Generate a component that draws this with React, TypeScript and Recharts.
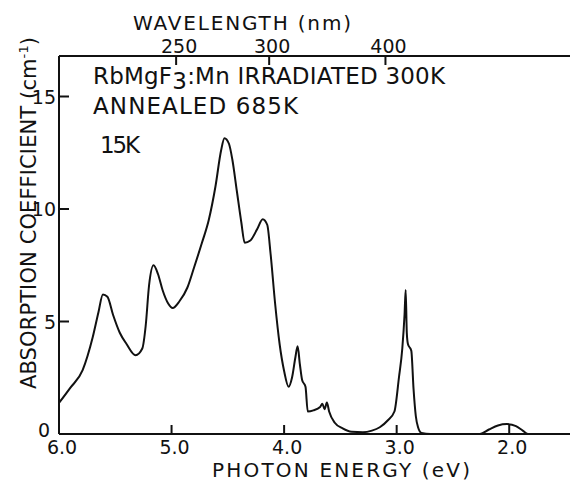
import React from "react";
import { LineChart, Line, XAxis, YAxis } from "recharts";

// photon energy (eV) and absorption coefficient (cm^-1)
const energy = [
  6.0, 5.9, 5.79, 5.7, 5.65, 5.61, 5.57, 5.52, 5.46, 5.4, 5.32, 5.26, 5.23, 5.2, 5.16,
  5.12, 5.08, 5.03, 4.99, 4.93, 4.86, 4.8, 4.73, 4.67, 4.61, 4.56, 4.53, 4.49, 4.46,
  4.42, 4.38, 4.35, 4.3, 4.24, 4.19, 4.15, 4.12, 4.08, 4.04, 4.0, 3.96, 3.93, 3.9, 3.88,
  3.86, 3.84, 3.81, 3.79, 3.74, 3.68, 3.66, 3.64, 3.62, 3.6, 3.55, 3.48, 3.4, 3.3, 3.22,
  3.15, 3.08, 3.02, 2.98, 2.95, 2.93, 2.92, 2.91, 2.9, 2.87, 2.85, 2.83, 2.81, 2.78,
  2.7, 2.3, 2.26, 2.18, 2.1, 2.02, 1.94, 1.88, 1.83, 1.46,
];
const absorption = [
  1.38, 2.05, 2.84, 4.31, 5.4, 6.2, 6.1, 5.3, 4.5, 4.0, 3.5, 3.8, 4.8, 6.6, 7.5,
  7.1, 6.4, 5.8, 5.6, 5.9, 6.5, 7.4, 8.5, 9.5, 11.0, 12.6, 13.15, 12.9, 12.2,
  10.8, 9.4, 8.5, 8.6, 9.1, 9.55, 9.3, 8.0, 5.8, 4.0, 2.8, 2.1, 2.5, 3.4, 3.9,
  3.1, 2.4, 2.1, 1.0, 1.05, 1.2, 1.35, 1.1, 1.4, 1.0, 0.5, 0.25, 0.1, 0.08, 0.15,
  0.3, 0.6, 1.0, 2.5, 3.8, 5.3, 6.4, 4.5, 4.0, 3.7, 2.0, 0.8, 0.3, 0.05,
  0, 0, 0, 0.2, 0.38, 0.44, 0.35, 0.15, 0, 0,
];

const energyTicks = [6, 5, 4, 3, 2];
const absTicks = [0, 5, 10, 15];
const wavelengthTicks = [250, 300, 400]; // nm

const HC = 1239.84; // eV*nm
const data = energy.map((e, i) => ({ e, a: absorption[i] }));
const FONT = "'DejaVu Sans', sans-serif";
const INK = "#111";

function BottomTick(props: any) {
  const { x, y, payload } = props;
  return (
    <g>
      <line x1={x} y1={y} x2={x} y2={y - 9} stroke={INK} strokeWidth={2} />
      <text x={x + 3} y={y + 20} textAnchor="middle" fontSize={19} fontFamily={FONT} fill={INK}>
        {Number(payload.value).toFixed(1)}
      </text>
    </g>
  );
}

function TopTick(props: any) {
  const { x, y, index } = props;
  return (
    <g>
      <line x1={x} y1={y} x2={x} y2={y + 9} stroke={INK} strokeWidth={2} />
      <text x={x + 3} y={y - 3} textAnchor="middle" fontSize={19} fontFamily={FONT} fill={INK}>
        {wavelengthTicks[index]}
      </text>
    </g>
  );
}

function LeftTick(props: any) {
  const { x, y, payload } = props;
  const zero = payload.value === 0;
  return (
    <g>
      {!zero && <line x1={x} y1={y} x2={x + 10} y2={y} stroke={INK} strokeWidth={2} />}
      <text
        x={zero ? x - 9 : x - 3}
        y={zero ? y + 3 : y + 7}
        textAnchor="end"
        fontSize={19}
        fontFamily={FONT}
        fill={INK}
      >
        {payload.value}
      </text>
    </g>
  );
}

export default function App() {
  return (
    <div style={{ position: "absolute", left: 0, top: 0, width: 570, height: 481, background: "#fff" }}>
      <LineChart width={570} height={481} data={data} margin={{ top: 0, right: 0, bottom: 0, left: 0 }}>
        <XAxis
          xAxisId="bottom"
          dataKey="e"
          type="number"
          domain={[1.46, 6.0]}
          reversed
          allowDataOverflow
          ticks={energyTicks}
          height={47}
          tickSize={0}
          tickMargin={0}
          tick={BottomTick}
          axisLine={{ stroke: INK, strokeWidth: 2 }}
        />
        <XAxis
          xAxisId="top"
          orientation="top"
          dataKey="e"
          type="number"
          domain={[1.46, 6.0]}
          reversed
          allowDataOverflow
          ticks={wavelengthTicks.map((w) => HC / w)}
          height={56}
          tickSize={0}
          tickMargin={0}
          tick={TopTick}
          axisLine={{ stroke: INK, strokeWidth: 2 }}
        />
        <YAxis
          type="number"
          domain={[0, 16.8]}
          ticks={absTicks}
          width={59}
          tickSize={0}
          tickMargin={0}
          tick={LeftTick}
          axisLine={{ stroke: INK, strokeWidth: 2 }}
        />
        <Line
          xAxisId="bottom"
          dataKey="a"
          type="monotone"
          stroke={INK}
          strokeWidth={2}
          dot={false}
          isAnimationActive={false}
        />
        <Line
          xAxisId="top"
          dataKey="a"
          type="monotone"
          stroke="none"
          dot={false}
          isAnimationActive={false}
        />
        <g fontFamily={FONT} fill={INK}>
          <text x={133} y={30} fontSize={20} textLength={218}>WAVELENGTH (nm)</text>
          <text x={212} y={477} fontSize={20} textLength={258}>PHOTON ENERGY (eV)</text>
          <text
            x={0}
            y={0}
            fontSize={21}
            textAnchor="middle"
            textLength={352}
            transform="translate(36 213) rotate(-90)"
          >
            ABSORPTION COEFFICIENT (cm<tspan dy={-8} fontSize={13}>-1</tspan><tspan dy={8}>)</tspan>
          </text>
          <text x={93} y={84} fontSize={23} textLength={352}>
            RbMgF<tspan dy={5}>3</tspan><tspan dy={-5}>:Mn IRRADIATED 300K</tspan>
          </text>
          <text x={93} y={114} fontSize={23} textLength={205}>ANNEALED 685K</text>
          <text x={100} y={153} fontSize={23} textLength={40}>15K</text>
        </g>
      </LineChart>
    </div>
  );
}
